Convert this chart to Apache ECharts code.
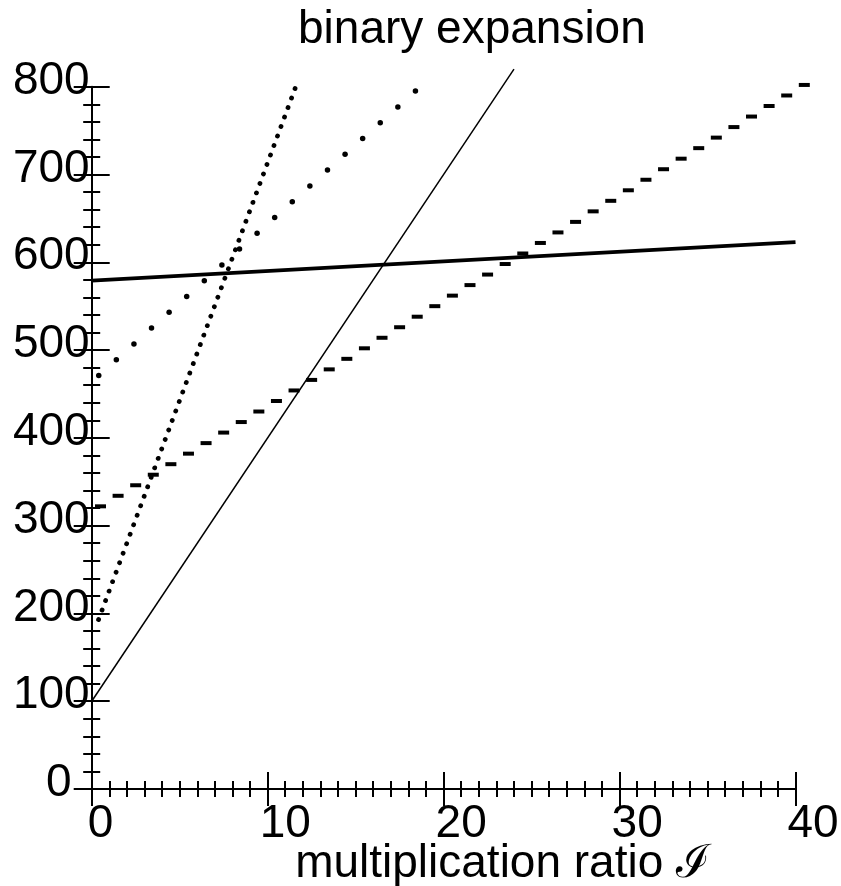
<!DOCTYPE html>
<html>
<head>
<meta charset="utf-8">
<script src="https://cdn.jsdelivr.net/npm/echarts@6/dist/echarts.min.js"></script>
<style>
html,body{margin:0;padding:0;background:#fff;}
#chart{width:841px;height:886px;}
</style>
</head>
<body>
<div id="chart"></div>
<script>
// ---- data ----
const titleText = 'binary expansion';
const xAxisTitle = 'multiplication ratio \u2110';
const xTicks = [0, 10, 20, 30, 40];
const yTicks = [0, 100, 200, 300, 400, 500, 600, 700, 800];

// thin solid line
const thinX = [0, 24];
const thinY = [100, 820];
// thick solid line
const thickX = [0, 40];
const thickY = [579, 623];
// densely dotted line
const denseX = [0.39, 11.56];
const denseY = [193, 798];
// sparse dots
const dotX = [0.4, 1.4, 2.4, 3.4, 4.4, 5.4, 6.4, 7.4, 8.4, 9.4, 10.4, 11.4, 12.4, 13.4, 14.4, 15.4, 16.4, 17.4, 18.4];
const dotY = [471, 489, 507, 525, 543, 561, 579, 597, 615, 633, 651, 669, 687, 705, 723, 741, 759, 777, 795];
// dashes
const dashX = [0.5, 1.5, 2.5, 3.5, 4.5, 5.5, 6.5, 7.5, 8.5, 9.5, 10.5, 11.5, 12.5, 13.5, 14.5, 15.5, 16.5, 17.5, 18.5, 19.5,
               20.5, 21.5, 22.5, 23.5, 24.5, 25.5, 26.5, 27.5, 28.5, 29.5, 30.5, 31.5, 32.5, 33.5, 34.5, 35.5, 36.5, 37.5, 38.5, 39.5, 40.5];
const dashY = [322, 334, 346, 358, 370, 382, 394, 406, 418, 430, 442, 454, 466, 478, 490, 502, 514, 526, 538, 550,
               562, 574, 586, 598, 610, 622, 634, 646, 658, 670, 682, 694, 706, 718, 730, 742, 754, 766, 778, 790, 802];

const zip = (a, b) => a.map((v, i) => [v, b[i]]);

const FONT = 'Liberation Sans';
const BLACK = '#000';
const FS = 46;

function xAxisBase(inside) {
  return {
    type: 'value', min: xTicks[0], max: xTicks[xTicks.length - 1], interval: 10,
    position: 'bottom', gridIndex: 0,
    axisLine: { show: !inside, onZero: false, lineStyle: { color: BLACK, width: 2 } },
    axisTick: { show: true, inside: inside, length: 17, lineStyle: { color: BLACK, width: 2 } },
    minorTick: { show: true, splitNumber: 10, length: 8, lineStyle: { color: BLACK, width: 2 } },
    splitLine: { show: false }, minorSplitLine: { show: false },
    axisLabel: inside ? { show: false } : {
      show: true, color: BLACK, fontFamily: FONT, fontSize: FS, margin: 12, align: 'left',
      padding: [0, 0, 0, -8],
      formatter: v => v === 0 ? '{z|0}' : String(v),
      rich: { z: { fontFamily: FONT, fontSize: FS, color: BLACK, padding: [0, 0, 0, 4] } }
    },
    name: inside ? '' : xAxisTitle,
    nameLocation: 'middle', nameGap: 52, nameMoveOverlap: false,
    nameTextStyle: { color: BLACK, fontFamily: FONT, fontSize: FS, padding: [0, 0, 0, 118] }
  };
}
function yAxisBase(inside) {
  return {
    type: 'value', min: yTicks[0], max: yTicks[yTicks.length - 1], interval: 100,
    position: 'left', gridIndex: 0, offset: 0,
    axisLine: { show: !inside, onZero: false, lineStyle: { color: BLACK, width: 2 } },
    axisTick: { show: true, inside: inside, length: 18, lineStyle: { color: BLACK, width: 2 } },
    minorTick: { show: true, splitNumber: 5, length: 8.5, lineStyle: { color: BLACK, width: 2 } },
    splitLine: { show: false }, minorSplitLine: { show: false },
    axisLabel: inside ? { show: false } : {
      show: true, color: BLACK, fontFamily: FONT, fontSize: FS, margin: 2,
      padding: [0, 0, 11, 0],
      formatter: v => v === 0 ? '{z|0}' : String(v),
      rich: { z: { fontFamily: FONT, fontSize: FS, color: BLACK, padding: [0, 18, 0, 0] } }
    }
  };
}

const chart = echarts.init(document.getElementById('chart'), null, { renderer: 'canvas' });
chart.setOption({
  animation: false,
  backgroundColor: '#fff',
  title: {
    text: titleText, left: 293, top: 2,
    textStyle: { color: BLACK, fontFamily: FONT, fontSize: FS, fontWeight: 'normal' }
  },
  grid: { left: 91.7, right: 45.5, top: 86.7, bottom: 97, containLabel: false, outerBoundsMode: 'none' },
  xAxis: [xAxisBase(false), xAxisBase(true)],
  yAxis: [yAxisBase(false), yAxisBase(true)],
  series: [
    {
      type: 'line', xAxisIndex: 0, yAxisIndex: 0, data: zip(thinX, thinY),
      showSymbol: false, symbol: 'none', clip: false,
      lineStyle: { color: BLACK, width: 1.5 }
    },
    {
      type: 'line', xAxisIndex: 0, yAxisIndex: 0, data: zip(thickX, thickY),
      showSymbol: false, symbol: 'none', clip: false,
      lineStyle: { color: BLACK, width: 3.8 }
    },
    {
      type: 'line', xAxisIndex: 0, yAxisIndex: 0, data: zip(denseX, denseY),
      showSymbol: false, symbol: 'none', clip: false,
      lineStyle: { color: BLACK, width: 4.8, type: [0.01, 10.1], cap: 'round' }
    },
    {
      type: 'scatter', xAxisIndex: 0, yAxisIndex: 0, data: zip(dotX, dotY),
      symbol: 'circle', symbolSize: 5.5, clip: false,
      itemStyle: { color: BLACK, opacity: 1 }
    },
    {
      type: 'scatter', xAxisIndex: 0, yAxisIndex: 0, data: zip(dashX, dashY),
      symbol: 'rect', symbolSize: [11, 4], clip: false,
      itemStyle: { color: BLACK, opacity: 1 }
    }
  ]
});
</script>
</body>
</html>
